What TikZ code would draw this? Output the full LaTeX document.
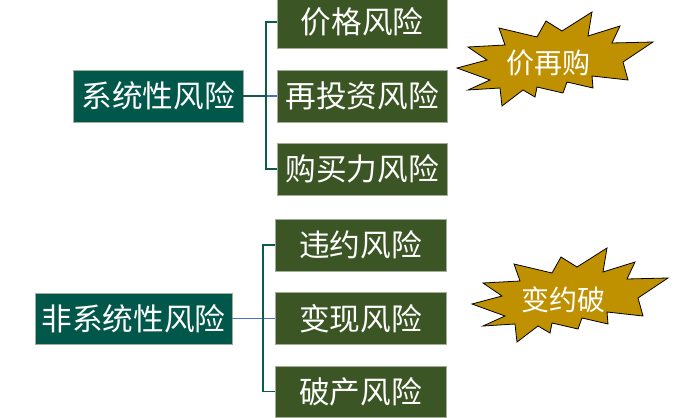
\documentclass[tikz,border=0pt]{standalone}
\usepackage{fontspec}
\setmainfont{Noto Sans CJK SC}
\definecolor{racine}{HTML}{02574B}
\definecolor{feuille}{HTML}{3B5524}
\definecolor{bordure}{HTML}{A3AE98}
\definecolor{trait}{HTML}{0E5A4C}
\definecolor{bleu}{HTML}{4472C4}
\definecolor{or}{HTML}{BF9000}
\tikzset{
  racinebox/.style={fill=racine,draw=bordure,line width=0.6pt,text=white,
    minimum height=39pt,inner sep=0pt,font=\fontsize{23}{26}\selectfont},
  feuillebox/.style={fill=feuille,draw=bordure,line width=0.6pt,text=white,
    minimum width=127.5pt,minimum height=39pt,inner sep=0pt,font=\fontsize{23}{26}\selectfont},
  lien/.style={draw=trait,line width=1.1pt},
  lienbleu/.style={draw=bleu,line width=1.1pt},
  eclatfond/.style={fill=or,draw=black,line width=0.6pt,line join=miter},
  eclattexte/.style={text=white,inner sep=0pt,font=\fontsize{21}{24}\selectfont},
  pics/eclat/.style={code={
    \draw[eclatfond] (-87,-12) -- (-50,-14) -- (-56,-31) -- (-18,-22) -- (-9,-38)
      -- (7,-28) -- (37,-47) -- (33,-23) -- (65,-33) -- (57,-16) -- (98,-17)
      -- (68,3) -- (73,21) -- (37,17) -- (38,29) -- (12,23) -- (8,34)
      -- (-18,28) -- (-20,38) -- (-32,31) -- (-53,47) -- (-55,29) -- (-87,31)
      -- (-65,21) -- (-98,9) -- (-68,1) -- cycle;
  }}
}
\begin{document}
\begin{tikzpicture}[x=0.75pt,y=-0.75pt]
	\useasboundingbox (0,0) rectangle (679,418);
	
	% Risque systematique
	\node[racinebox,minimum width=127.5pt] (sys) at (158,96) {系统性风险};
	\node[feuillebox] (sys1) at (362,22) {价格风险};
	\node[feuillebox] (sys2) at (362,96) {再投资风险};
	\node[feuillebox] (sys3) at (362,169) {购买力风险};
	\coordinate (sysbus) at (266,96);
	
	\draw[lien] (sys) -- (sysbus);
	\draw[lienbleu] (sysbus) -- (sys2);
	\draw[lien] (sys1.west) -| (sysbus) |- (sys3.west);
	
	% Risque non systematique
	\node[racinebox,minimum width=147.75pt,minimum height=38.25pt] (nsys) at (133.5,318.5) {非系统性风险};
	\node[feuillebox,minimum width=128.25pt] (nsys1) at (360.5,245) {违约风险};
	\node[feuillebox,minimum width=128.25pt] (nsys2) at (360.5,318.5) {变现风险};
	\node[feuillebox,minimum width=128.25pt,minimum height=38.25pt] (nsys3) at (360.5,391.5) {破产风险};
	\coordinate (nsysbus) at (263,318.5);
	
	\draw[lienbleu] (nsys) -- (nsys2);
	\draw[lien] (nsys1.west) -| (nsysbus) |- (nsys3.west);
	
	% Eclats
	\pic at (555,59) {eclat};
	\node[eclattexte] (memo1) at (548,63) {价再购};
	\pic at (570,295) {eclat};
	\node[eclattexte] (memo2) at (563,300) {变约破};
\end{tikzpicture}
\end{document}
